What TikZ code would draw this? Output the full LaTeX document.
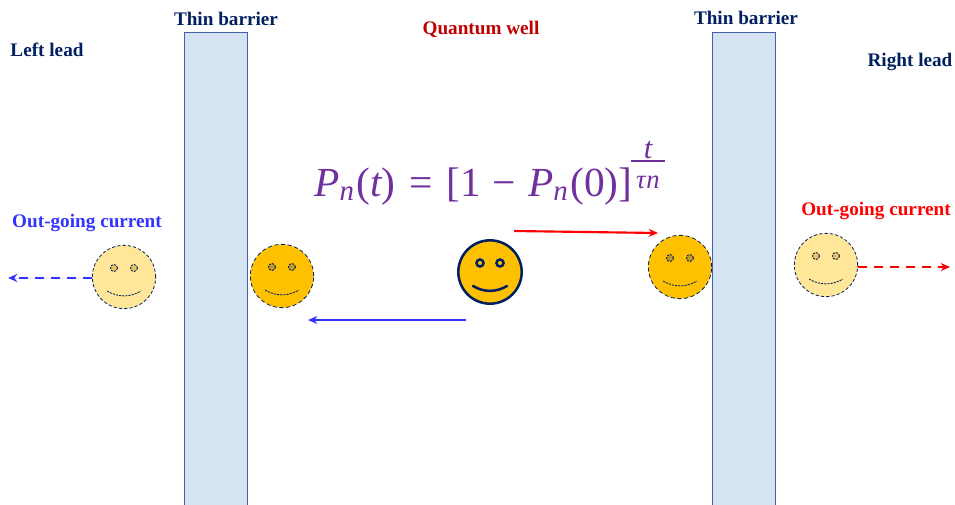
\documentclass[tikz,border=0pt]{standalone}
\usepackage{fontspec}
\usepackage{amsmath}
\setmainfont{Liberation Serif}
\usetikzlibrary{arrows.meta}
\definecolor{navy}{HTML}{002060}
\definecolor{wellred}{HTML}{C00000}
\definecolor{cblue}{HTML}{3333FF}
\definecolor{cred}{HTML}{FF0000}
\definecolor{fpurple}{HTML}{7030A0}
\definecolor{barfill}{HTML}{D5E3F3}
\definecolor{barline}{HTML}{3F62A0}
\definecolor{gold}{HTML}{FFC000}
\definecolor{pale}{HTML}{FFE699}
\definecolor{eyegold}{HTML}{C49A1C}
\definecolor{eyepale}{HTML}{EBC65E}
\newcommand{\iv}[1]{\text{\itshape #1}}
\newcommand{\rv}[1]{\text{\upshape #1}}
\newcommand{\expfrac}{%
  \makebox[25.5pt][c]{\raisebox{28.5pt}{\fontsize{23}{23}\selectfont\itshape t}}%
  \kern-25.5pt\rule[25.4pt]{25.5pt}{1.3pt}%
  \kern-25.5pt\makebox[25.5pt][c]{\raisebox{6pt}{\fontsize{20}{20}\selectfont\itshape τ\kern0.5pt n}}}
\tikzset{
  lbl/.style={font=\bfseries\fontsize{14.4}{16}\selectfont,inner sep=0pt,anchor=center},
  barrier/.style={draw=barline,line width=0.8pt,fill=barfill,rectangle,inner sep=0pt,anchor=north west,minimum width=47.5pt},
  facec/.style={circle,inner sep=0pt,minimum size=47.5pt},
  goldface/.style={facec,draw=navy,densely dashed,line width=0.6pt,fill=gold},
  paleface/.style={facec,draw=navy,dash pattern=on 2.4pt off 1.6pt,line width=0.6pt,fill=pale},
  mainface/.style={facec,draw=navy,line width=1.9pt,fill=gold},
  feat/.style={draw=navy,line width=0.65pt,dash pattern=on 1.6pt off 0.8pt},
  arr/.style={line width=1.6pt,-{Stealth[length=7pt,width=6pt]}},
  darr/.style={arr,dash pattern=on 7pt off 5pt},
}
\newcommand{\smilefeatures}[3]{% node, style options, eye fill
  \begin{scope}[shift={(#1.center)}]
    \draw[#2,fill=#3] (-10,-9) circle[radius=3.5];
    \draw[#2,fill=#3] (10,-9) circle[radius=3.5];
    \draw[#2,fill=none] (-17,14) .. controls (-6,20.5) and (6,20.5) .. (17,14);
  \end{scope}
}
\begin{document}
\begin{tikzpicture}[x=0.75pt,y=-0.75pt]
\useasboundingbox (0,0) rectangle (955,504);
\clip (0,0) rectangle (955,504);
\node[barrier,minimum height=400pt] (barL) at (184,32) {};
\node[barrier,minimum height=400pt] (barR) at (712,32) {};

\node[lbl,text=navy] (tbL) at (226,18.5) {Thin barrier};
\node[lbl,text=navy] (tbR) at (746,17.5) {Thin barrier};
\node[lbl,text=navy] (leadL) at (47,49.5) {Left lead};
\node[lbl,text=navy] (leadR) at (910,61.5) {Right lead};
\node[lbl,text=wellred] (well) at (481,29.5) {Quantum well};
\node[lbl,text=cblue] (outL) at (87,222.5) {Out-going current};
\node[lbl,text=cred] (outR) at (876,210.5) {Out-going current};

\node[inner sep=0pt,text=fpurple,anchor=base west] (eq) at (314,196)
  {\fontsize{31}{36}\selectfont $\iv{P}_{\iv{n}}\mkern1mu\rv{(}\iv{t}\rv{)}\mkern7.5mu\rv{=}\mkern7.5mu\rv{[1}\mkern6.5mu\rv{−}\mkern6.5mu\iv{P}_{\iv{n}}\mkern1mu\rv{(0)]}$\kern-1pt\expfrac};

\node[paleface] (fpL) at (124,277) {};
\node[goldface] (fgL) at (282,276) {};
\node[mainface] (fm) at (490,272) {};
\node[goldface] (fgR) at (680,267) {};
\node[paleface] (fpR) at (826,265) {};

\smilefeatures{fpL}{feat}{eyepale}
\smilefeatures{fgL}{feat}{eyegold}
\smilefeatures{fgR}{feat}{eyegold}
\smilefeatures{fpR}{feat}{eyepale}
\smilefeatures{fm}{draw=navy,line width=1.9pt,line cap=round}{gold}

\coordinate (aS) at (466,320);
\coordinate (aE) at (308,320);
\coordinate (bS) at (514,231);
\coordinate (bE) at (658,233);
\coordinate (cE) at (8,278);
\coordinate (dE) at (950,267);
\draw[arr,draw=cblue,fill=cblue] (aS) -- (aE);
\draw[arr,draw=cred,fill=cred] (bS) -- (bE);
\draw[darr,draw=cblue,fill=cblue] (fpL.west |- cE) -- (cE);
\draw[darr,draw=cred,fill=cred] (fpR.east |- dE) -- (dE);
\end{tikzpicture}
\end{document}
